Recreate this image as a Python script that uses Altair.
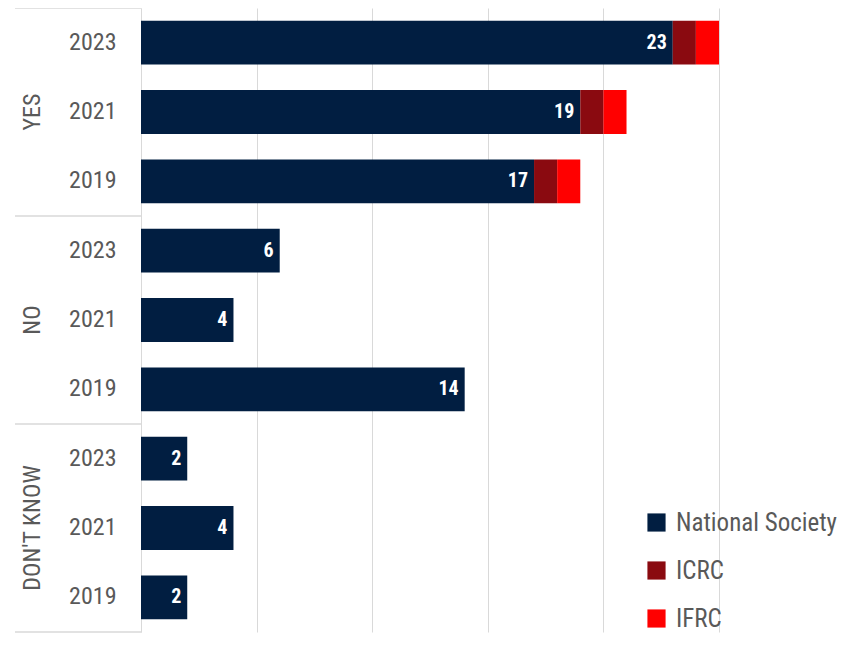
import altair as alt
import pandas as pd

groups = ["YES", "YES", "YES", "NO", "NO", "NO", "DON'T KNOW", "DON'T KNOW", "DON'T KNOW"]
years = ["2023", "2021", "2019", "2023", "2021", "2019", "2023", "2021", "2019"]
national_society = [23, 19, 17, 6, 4, 14, 2, 4, 2]
icrc = [1, 1, 1, 0, 0, 0, 0, 0, 0]
ifrc = [1, 1, 1, 0, 0, 0, 0, 0, 0]
series_names = ["National Society", "ICRC", "IFRC"]
series_colors = ["#011E41", "#8A0A10", "#FF0000"]
x_ticks = [0, 5, 10, 15, 20, 25]

FONT = "Roboto Condensed"
GRAY = "#595959"
LINE = "#d9d9d9"

keys = [f"{g}|{y}" for g, y in zip(groups, years)]
rows = []
for k, g, y, a, b, c in zip(keys, groups, years, national_society, icrc, ifrc):
    for i, (s, v) in enumerate(zip(series_names, [a, b, c])):
        if v > 0:
            rows.append({"key": k, "group": g, "year": y, "series": s, "order": i, "value": v})
df = pd.DataFrame(rows)

H = 624
step = H / 9
pad_inner = 0.367
gap_half = step * pad_inner / 2

yscale = alt.Scale(domain=keys, paddingInner=pad_inner, paddingOuter=pad_inner / 2)

bars = alt.Chart(df).mark_bar().encode(
    x=alt.X("value:Q", stack="zero",
            scale=alt.Scale(domain=[0, 25], nice=False),
            axis=alt.Axis(values=x_ticks, labels=False, ticks=False, domain=False,
                          grid=True, gridColor=LINE, gridWidth=1, title=None)),
    y=alt.Y("key:N", scale=yscale, sort=keys,
            axis=alt.Axis(title=None, ticks=False, domain=True, domainColor=LINE,
                          labelExpr="split(datum.label, '|')[1]",
                          labelFont=FONT, labelFontSize=24, labelColor=GRAY,
                          labelPadding=25, labelAlign="right")),
    color=alt.Color("series:N",
                    scale=alt.Scale(domain=series_names, range=series_colors),
                    legend=alt.Legend(title=None, orient="none", legendX=503, legendY=502,
                                      symbolType="square", symbolSize=330,
                                      symbolStrokeWidth=0,
                                      labelFont=FONT, labelFontSize=25, labelColor=GRAY,
                                      rowPadding=22, labelOffset=7, labelLimit=300)),
    order=alt.Order("order:Q"),
)

labels = alt.Chart(df).transform_filter(
    alt.datum.series == "National Society"
).mark_text(align="right", baseline="middle", dx=-6, color="white",
            font=FONT, fontSize=20, fontWeight="bold").encode(
    x=alt.X("value:Q"),
    y=alt.Y("key:N", sort=keys),
    text=alt.Text("value:Q"),
)

group_df = pd.DataFrame({"key": [keys[1], keys[4], keys[7]], "group": ["YES", "NO", "DON'T KNOW"]})
group_labels = alt.Chart(group_df).mark_text(
    angle=270, align="center", baseline="middle", font=FONT, fontSize=24, color=GRAY
).encode(
    x=alt.value(-108),
    y=alt.Y("key:N", sort=keys),
    text="group:N",
)

sep_df = pd.DataFrame({"key": [keys[0], keys[3], keys[6]]})
seps = alt.Chart(sep_df).mark_rule(color=LINE, strokeWidth=1.5, yOffset=-gap_half).encode(
    x=alt.value(-126), x2=alt.value(0),
    y=alt.Y("key:N", sort=keys, bandPosition=0),
)
bottom_df = pd.DataFrame({"key": [keys[8]]})
bottom = alt.Chart(bottom_df).mark_rule(color=LINE, strokeWidth=1.5, yOffset=gap_half).encode(
    x=alt.value(-126), x2=alt.value(0),
    y=alt.Y("key:N", sort=keys, bandPosition=1),
)

chart = alt.layer(bars, labels, group_labels, seps, bottom).properties(
    width=578, height=H,
    autosize=alt.AutoSizeParams(type="none"),
    padding={"left": 133, "top": 0, "right": 118, "bottom": 6},
).configure_view(stroke=None)

chart.save("out.html", embed_options={"renderer": "svg", "actions": False})
